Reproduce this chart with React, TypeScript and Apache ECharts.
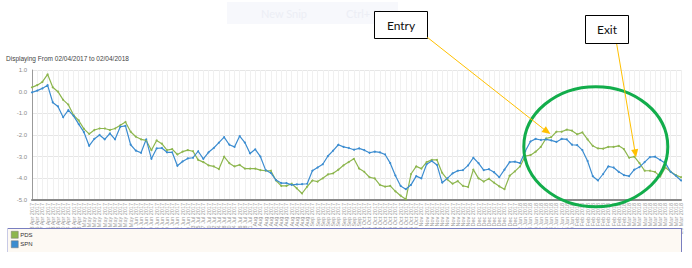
import React, { useEffect, useRef } from "react";
import * as echarts from "echarts";

const aprDays = ["03","05","07","11","13","18","20","24","26","28"];
const mayDays = ["02","04","08","10","12","16","18","22","24","30"];
const junDays = ["01","05","07","09","13","15","19","21","23","27","29"];
const julDays = ["03","05","07","10","12","14","18","20","24","26","28","31"];
const augDays = ["02","04","08","10","14","16","18","22","24","29","31"];
const sepDays = ["04","06","08","12","14","18","20","22","26","28"];
const octDays = ["02","04","06","10","12","16","18","20","24","26","30"];
const novDays = ["01","03","07","09","13","15","17","21","23","27"];
const decDays = ["01","05","07","11","13","15","19","21","27"];
const janDays = ["02","04","08","10","12","16","18","22","24","26","30"];
const febDays = ["01","05","07","09","13","15","19","21","23","27"];
const marDays = ["01","05","07","09","13","15","19","21","23","27","29"];

const months: [string[], string][] = [
  [aprDays, "Apr 2017"], [mayDays, "May 2017"], [junDays, "Jun 2017"], [julDays, "Jul 2017"],
  [augDays, "Aug 2017"], [sepDays, "Sep 2017"], [octDays, "Oct 2017"], [novDays, "Nov 2017"],
  [decDays, "Dec 2017"], [janDays, "Jan 2018"], [febDays, "Feb 2018"], [marDays, "Mar 2018"],
];
const categories: string[] = months.flatMap(([days, m]) => days.map((d) => `${d} ${m}`));

const pds = [
  0.2, 0.3, 0.45, 0.8, 0.2, 0.0, -0.38, -0.6, -1.08, -1.33,
  -1.72, -1.95, -1.77, -1.7, -1.7, -1.77, -1.7, -1.55, -1.4, -1.85,
  -2.08, -2.2, -2.25, -2.7, -2.25, -2.4, -2.7, -2.65, -2.9, -2.77,
  -2.7, -2.75, -3.15, -3.25, -3.4, -3.45, -3.57, -3.0, -3.3, -3.45,
  -3.38, -3.55, -3.55, -3.55, -3.62, -3.65, -3.65, -4.1, -4.35, -4.35,
  -4.25, -4.46, -4.7, -4.38, -4.1, -4.15, -4.0, -3.82, -3.77, -3.6,
  -3.4, -3.25, -3.1, -3.55, -3.7, -3.95, -4.0, -4.3, -4.38, -4.35,
  -4.6, -4.8, -4.97, -3.8, -3.45, -3.55, -3.25, -3.15, -3.15, -3.75,
  -4.05, -4.25, -4.13, -4.35, -4.4, -3.6, -4.0, -4.15, -4.02, -4.2,
  -4.37, -4.5, -3.88, -3.68, -3.45, -2.97, -2.93, -2.77, -2.55, -2.16,
  -2.1, -1.85, -1.85, -1.75, -1.8, -1.97, -1.88, -2.2, -2.5, -2.62,
  -2.63, -2.55, -2.55, -2.5, -2.65, -3.05, -3.0, -3.3, -3.65, -3.65,
  -3.7, -3.92, -3.5, -3.7, -3.85, -3.95,
];

const spn = [
  -0.03, 0.05, 0.15, 0.3, -0.5, -0.68, -1.18, -0.85, -1.12, -1.5,
  -1.87, -2.5, -2.18, -2.0, -2.2, -1.93, -2.2, -1.62, -1.58, -2.45,
  -2.72, -2.82, -2.2, -3.1, -2.62, -2.6, -2.8, -2.8, -3.42, -3.22,
  -3.08, -3.05, -2.75, -3.1, -2.8, -2.6, -2.35, -2.1, -2.45, -2.55,
  -2.05, -2.35, -2.85, -2.66, -3.0, -3.62, -3.75, -4.08, -4.22, -4.22,
  -4.3, -4.28, -4.27, -4.25, -3.65, -3.5, -3.35, -2.97, -2.72, -2.45,
  -2.55, -2.6, -2.68, -2.62, -2.7, -2.82, -2.77, -2.8, -2.9, -3.3,
  -3.88, -4.35, -4.5, -4.3, -3.9, -4.0, -3.35, -3.2, -3.38, -4.2,
  -4.0, -3.77, -3.65, -3.62, -3.4, -3.05, -3.3, -3.62, -3.58, -3.72,
  -3.95, -3.6, -3.25, -3.23, -3.3, -2.75, -2.3, -2.18, -2.23, -2.2,
  -2.25, -2.32, -2.18, -2.2, -2.45, -2.47, -2.7, -3.2, -3.9, -4.1,
  -3.8, -3.45, -3.5, -3.7, -3.85, -3.9, -3.6, -3.48, -3.25, -3.02,
  -3.0, -3.15, -3.3, -3.7, -3.88, -4.1,
];

const seriesNames = ["PDS", "SPN"];
const seriesColors = ["#8db64e", "#3b8cd0"];
const titleText = "Displaying From 02/04/2017 to 02/04/2018";

export default function App() {
  const ref = useRef<HTMLDivElement>(null);
  useEffect(() => {
    document.body.style.margin = "0";
    const chart = echarts.init(ref.current!, null, { renderer: "svg" });
    const orange = "#ffc000";
    chart.setOption({
      animation: false,
      backgroundColor: "#ffffff",
      grid: { left: 32, right: 11, top: 70, bottom: 68, containLabel: false },
      xAxis: {
        type: "category",
        data: categories,
        boundaryGap: false,
        axisLine: { onZero: false, lineStyle: { color: "#8a8a8a", width: 2 } },
        axisTick: { show: false },
        axisLabel: {
          interval: 0,
          rotate: 90,
          fontSize: 5.5,
          color: "#9a9a9a",
          fontFamily: "Liberation Sans",
          margin: 3,
        },
        splitLine: { show: true, interval: 0, lineStyle: { color: "#f0f0f0", width: 1 } },
      },
      yAxis: {
        type: "value",
        min: -5,
        max: 1,
        interval: 1,
        axisLine: { show: true, onZero: false, lineStyle: { color: "#9a9a9a", width: 1 } },
        axisTick: { show: false },
        axisLabel: {
          fontSize: 6,
          color: "#8a8a8a",
          fontFamily: "Liberation Sans",
          margin: 5,
          formatter: (v: number) => v.toFixed(1),
        },
        splitLine: { lineStyle: { color: "#e6e6e6", width: 1 } },
      },
      legend: {
        orient: "vertical",
        left: 9,
        top: 229,
        z: 60,
        padding: 2,
        itemWidth: 7,
        itemHeight: 7,
        itemGap: 2,
        icon: "rect",
        data: seriesNames,
        textStyle: { fontSize: 6, color: "#333", fontFamily: "Liberation Sans", padding: [0, 0, 0, -3] },
        itemStyle: { borderColor: "#777", borderWidth: 0.5 },
      },
      series: [
        {
          name: seriesNames[0],
          type: "line",
          data: pds,
          color: seriesColors[0],
          symbol: "circle",
          symbolSize: 2,
          showSymbol: true,
          lineStyle: { width: 1.2, color: seriesColors[0] },
          itemStyle: { color: seriesColors[0] },
        },
        {
          name: seriesNames[1],
          type: "line",
          data: spn,
          color: seriesColors[1],
          symbol: "circle",
          symbolSize: 2,
          showSymbol: true,
          lineStyle: { width: 1.2, color: seriesColors[1] },
          itemStyle: { color: seriesColors[1] },
        },
      ],
      graphic: [
        { type: "rect", z: 1, shape: { x: 227, y: 2, width: 171, height: 22 }, style: { fill: "#f7f8fc" } },
        { type: "text", z: 2, style: { text: "New Snip", x: 261, y: 13, fill: "#eceef5", fontSize: 11, fontFamily: "Lato", textVerticalAlign: "middle" } },
        { type: "text", z: 2, style: { text: "Ctrl+ N", x: 346, y: 13, fill: "#eceef5", fontSize: 11, fontFamily: "Lato", textVerticalAlign: "middle" } },
        { type: "text", z: 5, style: { text: titleText, x: 6, y: 58, fill: "#444", fontSize: 6.5, fontFamily: "Liberation Sans", textVerticalAlign: "middle" } },
        // legend box
        { type: "rect", z: 50, shape: { x: 7, y: 228, width: 674, height: 24 }, style: { fill: "#fdf9f3" } },
        { type: "line", z: 51, shape: { x1: 7, y1: 228.5, x2: 681, y2: 228.5 }, style: { stroke: "#7a7fc0", lineWidth: 1 } },
        { type: "line", z: 51, shape: { x1: 681.5, y1: 228, x2: 681.5, y2: 252 }, style: { stroke: "#7a7fc0", lineWidth: 1 } },
        { type: "line", z: 51, shape: { x1: 7.5, y1: 228, x2: 7.5, y2: 252 }, style: { stroke: "#c8cae6", lineWidth: 1 } },
        // green ellipse
        { type: "ellipse", z: 70, shape: { cx: 595.8, cy: 146.7, rx: 72, ry: 60 }, style: { fill: "none", stroke: "#12ad4b", lineWidth: 3 } },
        // Entry annotation
        { type: "rect", z: 70, shape: { x: 374.5, y: 11.5, width: 53, height: 27 }, style: { fill: "#fff", stroke: "#000", lineWidth: 1 } },
        { type: "text", z: 71, style: { text: "Entry", x: 401, y: 25, fill: "#111", fontSize: 12, fontFamily: "Lato", textAlign: "center", textVerticalAlign: "middle" } },
        { type: "line", z: 70, shape: { x1: 427.3, y1: 37.3, x2: 544, y2: 129.3 }, style: { stroke: orange, lineWidth: 1 } },
        { type: "polygon", z: 70, shape: { points: [[550.5, 134], [541.5, 131.9], [545.9, 126.3]] }, style: { fill: orange } },
        // Exit annotation
        { type: "rect", z: 70, shape: { x: 585.5, y: 15.5, width: 43, height: 28 }, style: { fill: "#fff", stroke: "#000", lineWidth: 1 } },
        { type: "text", z: 71, style: { text: "Exit", x: 607, y: 29.5, fill: "#111", fontSize: 12, fontFamily: "Lato", textAlign: "center", textVerticalAlign: "middle" } },
        { type: "line", z: 70, shape: { x1: 616.7, y1: 44, x2: 634.7, y2: 150 }, style: { stroke: orange, lineWidth: 1 } },
        { type: "polygon", z: 70, shape: { points: [[636, 157.5], [631.2, 150.0], [638.2, 148.8]] }, style: { fill: orange } },
      ],
    });
    return () => chart.dispose();
  }, []);
  return <div ref={ref} style={{ position: "absolute", left: 0, top: 0, width: 692, height: 268 }} />;
}
